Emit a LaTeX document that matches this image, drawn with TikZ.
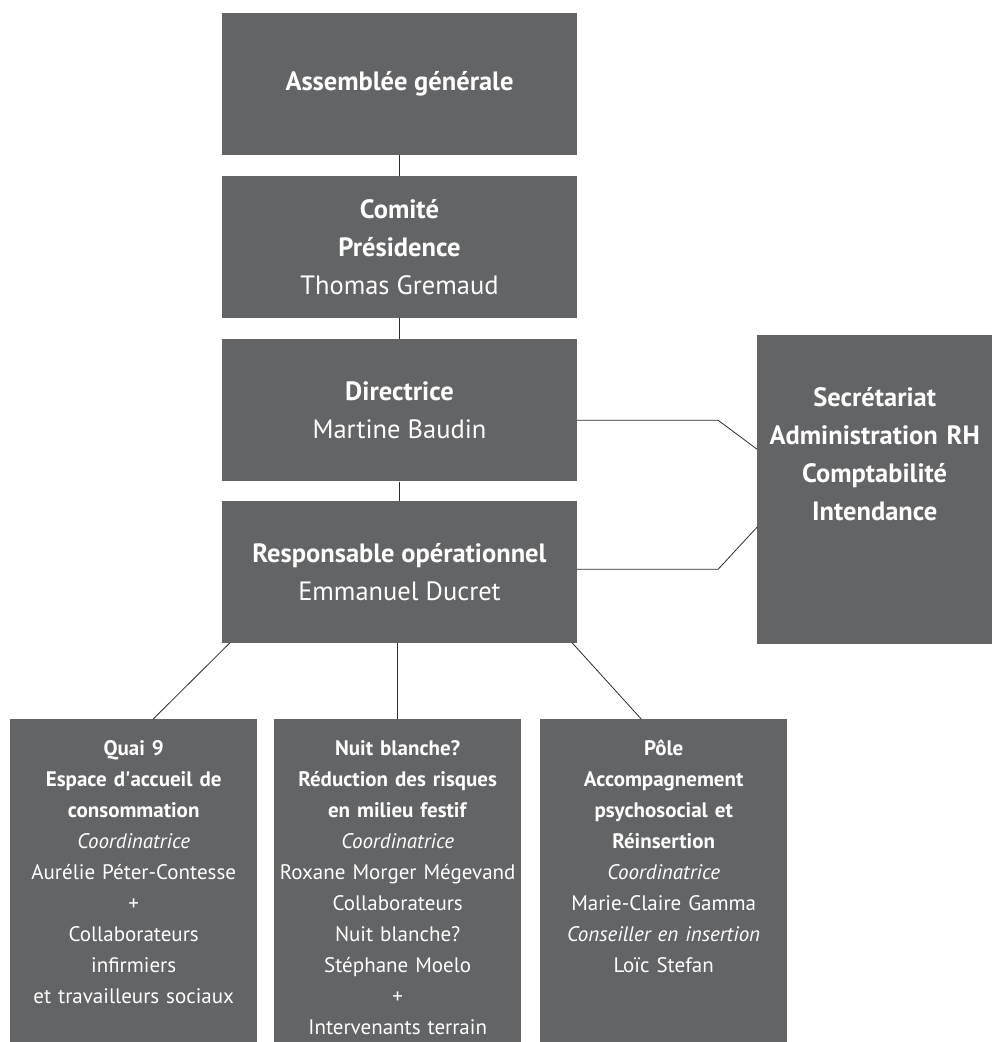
\documentclass[tikz,border=0pt]{standalone}
\usepackage{fontspec}
\setmainfont{PT Sans}
\usetikzlibrary{positioning}
\definecolor{orgfill}{HTML}{636466}
\definecolor{orgline}{HTML}{2B2B2B}
\tikzset{
  font=\fontsize{26.5}{38}\selectfont,
  unit/.style={fill=orgfill,text=white,align=center,inner sep=0pt,
               minimum width=355pt,minimum height=142pt},
  side/.style={fill=orgfill,text=white,align=center,inner sep=0pt,
               text width=235pt,text height=71pt,text depth=238pt},
  pole/.style={fill=orgfill,text=white,align=center,inner sep=0pt,
               text width=247pt,text height=36pt,text depth=287pt,
               font=\fontsize{21}{31}\selectfont},
  link/.style={draw=orgline,line width=0.8pt},
}

\begin{document}
\begin{tikzpicture}[x=1pt,y=1pt]
  \useasboundingbox (0,0) rectangle (992,-1042);

  % main chain
  \node[unit] (ag) at (399.5,-83.5) {\textbf{Assemblée générale}};
  \node[unit,below=21pt of ag] (comite) {\textbf{Comité}\\\textbf{Présidence}\\Thomas Gremaud};
  \node[unit,below=21pt of comite] (dir) {\textbf{Directrice}\\Martine Baudin};
  \node[unit,below=19pt of dir] (resp) {\textbf{Responsable opérationnel}\\Emmanuel Ducret};

  % support services
  \node[side,anchor=north west] (secr) at (757,-335)
    {\textbf{Secrétariat}\\\textbf{Administration RH}\\\textbf{Comptabilité}\\\textbf{Intendance}};

  % the three poles
  \node[pole,anchor=north west] (quai) at (10,-719)
    {\textbf{Quai 9}\\\textbf{Espace d\textquotesingle accueil de}\\\textbf{consommation}\\\textit{Coordinatrice}\\
     Aurélie Péter-Contesse\\+\\Collaborateurs\\infirmiers\\et travailleurs sociaux};
  \node[pole,anchor=north west] (nuit) at (274,-719)
    {\textbf{Nuit blanche?}\\\textbf{Réduction des risques}\\\textbf{en milieu festif}\\\textit{Coordinatrice}\\
     Roxane Morger Mégevand\\Collaborateurs\\Nuit blanche?\\Stéphane Moelo\\+\\Intervenants terrain};
  \node[pole,anchor=north west] (psy) at (540,-719)
    {\textbf{Pôle}\\\textbf{Accompagnement}\\\textbf{psychosocial et}\\\textbf{Réinsertion}\\\textit{Coordinatrice}\\
     Marie-Claire Gamma\\\textit{Conseiller en insertion}\\Loïc Stefan};

  \draw[link] (ag) -- (comite);
  \draw[link] (comite) -- (dir);
  \draw[link] (dir) -- (resp);

  % staff links to the side box
  \draw[link] ([yshift=-10pt]dir.east) -- ++(141,0) -- ([yshift=40.5pt]secr.west);
  \draw[link] ([yshift=2.5pt]resp.east) -- ++(141,0) -- ([yshift=-37.5pt]secr.west);

  \draw[link] ([xshift=8pt]resp.south west) -- ([xshift=19.5pt]quai.north);
  \draw[link] (resp.south -| nuit.north) -- (nuit.north);
  \draw[link] ([xshift=-5pt]resp.south east) -- ([xshift=-22.5pt]psy.north);
\end{tikzpicture}
\end{document}
